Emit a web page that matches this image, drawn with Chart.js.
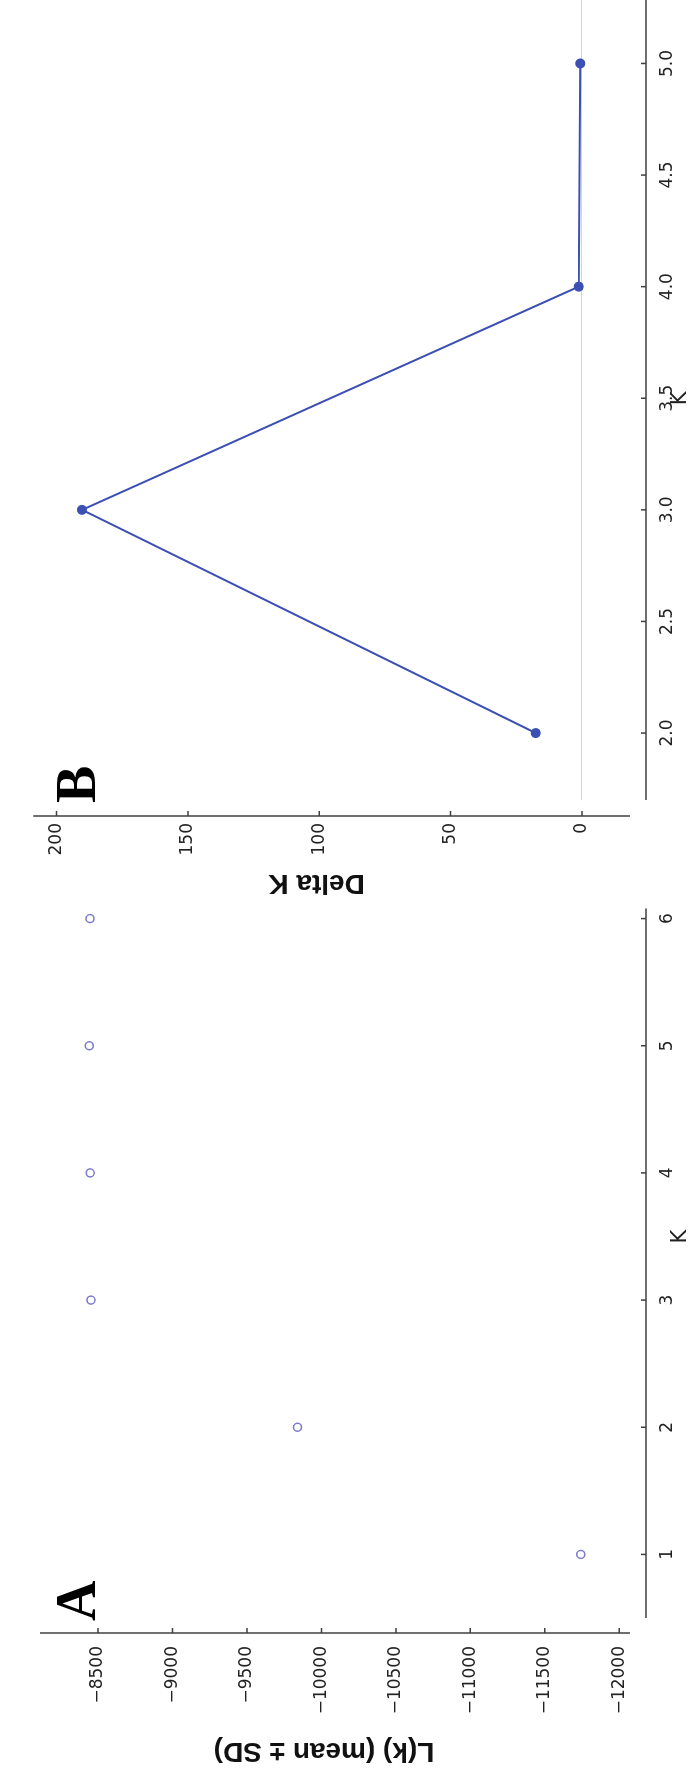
<!DOCTYPE html>
<html>
<head>
<meta charset="utf-8">
<script src="https://cdn.jsdelivr.net/npm/chart.js@4.4.0/dist/chart.umd.min.js"></script>
<style>
html, body { margin: 0; padding: 0; background: #fff; overflow: hidden; }
/* the figure is drawn landscape and turned a quarter turn, like the scan */
#fig {
    position: absolute; left: 0; top: 0;
    width: 1780px; height: 691px;
    overflow: hidden; background: #fff;
    transform-origin: 0 0;
    transform: translateY(1780px) rotate(-90deg);
}
#panelA { position: absolute; left: 0; top: 0; }
#panelB { position: absolute; left: 820px; top: 0; }
</style>
</head>
<body>
<div id="fig">
    <canvas id="panelA" width="940" height="691"></canvas>
    <canvas id="panelB" width="980" height="691"></canvas>
</div>
<script>
// panel A: mean log likelihood per K
const kA = [1, 2, 3, 4, 5, 6];
const lkMean = [-11742, -9840, -8452, -8447, -8441, -8446];
const rangeAX = [0.5, 6.5];
const rangeAY = [-12072, -8110];
const ticksAX = [1, 2, 3, 4, 5, 6];
const ticksAY = [-12000, -11500, -11000, -10500, -10000, -9500, -9000, -8500];

// panel B: Delta K
const kB = [2, 3, 4, 5];
const deltaK = [17.6, 190.3, 1.2, 0.6];
const rangeBX = [1.7, 5.3];
const rangeBY = [-18.3, 208.9];
const ticksBX = [2.0, 2.5, 3.0, 3.5, 4.0, 4.5, 5.0];
const ticksBY = [0, 50, 100, 150, 200];

Chart.defaults.font.family = '"DejaVu Sans"';
Chart.defaults.color = '#222';

// offset spines with inward ticks, the y title and the panel letter
const spines = {
    id: 'spines',
    afterDraw(chart, args, opts) {
        const ctx = chart.ctx;
        const area = chart.chartArea;
        const x = chart.scales.x;
        const y = chart.scales.y;
        const sx = area.left - opts.offsetX;
        const sy = area.bottom + opts.offsetY;
        const xEnd = opts.xEnd != null ? x.getPixelForValue(opts.xEnd) : area.right;

        ctx.save();
        ctx.strokeStyle = '#404040';
        ctx.lineWidth = 1.5;
        ctx.beginPath();
        ctx.moveTo(sx, area.top);
        ctx.lineTo(sx, area.bottom);
        ctx.moveTo(area.left, sy);
        ctx.lineTo(xEnd, sy);
        y.ticks.forEach(function (t) {
            const p = y.getPixelForValue(t.value);
            ctx.moveTo(sx, p);
            ctx.lineTo(sx + 5, p);
        });
        x.ticks.forEach(function (t) {
            const p = x.getPixelForValue(t.value);
            ctx.moveTo(p, sy);
            ctx.lineTo(p, sy - 5);
        });
        ctx.stroke();

        // y title, a little above the middle of the axis as in the scan
        ctx.fillStyle = '#111';
        ctx.font = 'bold 28px "Liberation Sans"';
        ctx.textAlign = 'center';
        ctx.textBaseline = 'middle';
        ctx.save();
        ctx.translate(opts.titleX, (area.top + area.bottom) / 2 - opts.titleShift);
        ctx.rotate(-Math.PI / 2);
        ctx.fillText(opts.title, 0, 0);
        ctx.restore();

        ctx.fillStyle = '#000';
        ctx.font = 'bold 56px "Liberation Serif"';
        ctx.textBaseline = 'alphabetic';
        ctx.textAlign = 'left';
        ctx.fillText(opts.letter, area.left - 3, 95);
        ctx.restore();
    }
};

const minus = function (v) {
    return String(v).replace('-', '\u2212');
};

function useTicks(list) {
    return function (scale) {
        scale.ticks = list.map(function (v) { return { value: v }; });
    };
}

const tickFont = { size: 17 };
const xTitleFont = { size: 21, lineHeight: 1 };

const ctxA = document.getElementById('panelA').getContext('2d');
const chartA = new Chart(ctxA, {
    type: 'scatter',
    data: {
        datasets: [
            {
                data: kA.map(function (k, i) { return { x: k, y: lkMean[i] }; }),
                pointRadius: 4,
                pointBorderWidth: 1.5,
                pointBorderColor: '#7a7acc',
                pointBackgroundColor: 'rgba(0,0,0,0)',
                showLine: false,
            },
        ],
    },
    options: {
        responsive: false,
        animation: false,
        events: [],
        layout: { padding: { top: 40, right: 15, bottom: 0, left: 0 } },
        plugins: {
            legend: { display: false },
            tooltip: { enabled: false },
            spines: {
                offsetX: 15, offsetY: 16, xEnd: 6.08, letter: 'A',
                title: 'L(k) (mean ± SD)', titleX: 29, titleShift: 11,
            },
        },
        scales: {
            x: {
                type: 'linear',
                min: rangeAX[0],
                max: rangeAX[1],
                afterBuildTicks: useTicks(ticksAX),
                grid: { display: false },
                border: { display: false },
                ticks: { padding: 19, font: tickFont, maxRotation: 0, autoSkip: false },
                title: { display: true, text: 'K', font: xTitleFont, padding: 0 },
                afterFit: function (s) { s.height = 61; },
            },
            y: {
                min: rangeAY[0],
                max: rangeAY[1],
                afterBuildTicks: useTicks(ticksAY),
                grid: { display: false },
                border: { display: false },
                ticks: { padding: 20, font: tickFont, autoSkip: false, callback: minus },
                afterFit: function (s) { s.width = 162; },
            },
        },
    },
    plugins: [spines],
});

const ctxB = document.getElementById('panelB').getContext('2d');
const chartB = new Chart(ctxB, {
    type: 'line',
    data: {
        datasets: [
            {
                data: kB.map(function (k, i) { return { x: k, y: deltaK[i] }; }),
                borderColor: '#3c50b4',
                borderWidth: 2,
                pointRadius: 5,
                pointBorderWidth: 0,
                pointBackgroundColor: '#3c50b4',
                fill: false,
                tension: 0,
            },
        ],
    },
    options: {
        responsive: false,
        animation: false,
        events: [],
        layout: { padding: { top: 9, right: 16.5, bottom: 0, left: 0 } },
        plugins: {
            legend: { display: false },
            tooltip: { enabled: false },
            spines: {
                offsetX: 16, offsetY: 16, letter: 'B',
                title: 'Delta K', titleX: 77, titleShift: 15,
            },
        },
        scales: {
            x: {
                type: 'linear',
                min: rangeBX[0],
                max: rangeBX[1],
                afterBuildTicks: useTicks(ticksBX),
                grid: { display: false },
                border: { display: false },
                ticks: {
                    padding: 19, font: tickFont, maxRotation: 0, autoSkip: false,
                    callback: function (v) { return v.toFixed(1); },
                },
                title: { display: true, text: 'K', font: xTitleFont, padding: 0 },
                afterFit: function (s) { s.height = 61; },
            },
            y: {
                min: rangeBY[0],
                max: rangeBY[1],
                afterBuildTicks: useTicks(ticksBY),
                grid: {
                    drawTicks: false,
                    lineWidth: 1,
                    color: function (c) {
                        return c.tick && c.tick.value === 0 ? '#d4d4d4' : 'rgba(0,0,0,0)';
                    },
                },
                border: { display: false },
                ticks: { padding: 23, font: tickFont, autoSkip: false, callback: minus },
                afterFit: function (s) { s.width = 160; },
            },
        },
    },
    plugins: [spines],
});
</script>
</body>
</html>
